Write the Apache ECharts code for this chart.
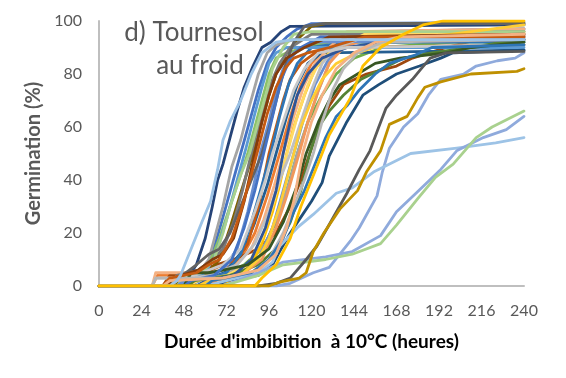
<!DOCTYPE html>
<html><head><meta charset="utf-8">
<script src="https://cdn.jsdelivr.net/npm/echarts@6/dist/echarts.min.js"></script>
<style>html,body{margin:0;padding:0;background:#fff}#c{width:566px;height:378px}</style>
</head><body><div id="c"></div>
<script>
const xTicks = [0,24,48,72,96,120,144,168,192,216,240];
const yTicks = [0,20,40,60,80,100];
const titleLines = ['d) Tournesol','au froid'];
const xName = "Durée d'imbibition  à 10°C (heures)";
const yName = 'Germination (%)';

const s01 = [[0,0],[40,0],[44,2],[46,4],[52,14],[58,24],[63,32],[67,44],[70,55],[74,62],[80,70],[86,80],[92,88],[100,92],[110,93],[240,93]];
const s02 = [[0,0],[36,0],[40,2],[50,3],[55,8],[60,18],[64,30],[67,40],[70,46],[74,56],[78,66],[82,75],[87,83],[92,90],[97,92],[103,96],[108,98],[240,98.5]];
const s03 = [[0,0],[40,0],[44,2],[55,4],[62,10],[66,20],[70,30],[75,45],[80,55],[85,68],[90,80],[95,88],[100,91],[110,93],[240,93]];
const s04 = [[0,0],[45,0],[50,2],[60,5],[66,12],[72,25],[78,40],[83,52],[88,65],[92,75],[96,84],[100,88],[106,90],[240,90]];
const s05 = [[0,0],[44,0],[48,3],[58,5],[65,10],[70,20],[75,32],[80,42],[85,50],[90,62],[95,74],[98,82],[104,90],[110,95],[120,96],[240,96]];
const s06 = [[0,0],[40,0],[48,2],[60,4],[68,10],[74,22],[80,35],[87,50],[92,62],[96,72],[100,80],[106,88],[112,93],[120,98],[128,99],[240,99]];
const s07 = [[0,0],[36,0],[40,3],[55,5],[62,8],[68,10],[75,18],[80,28],[86,42],[90,52],[95,65],[100,75],[105,82],[110,86],[118,88],[130,90],[150,94],[240,94]];
const s08 = [[0,0],[40,0],[45,3],[55,8],[62,12],[68,14],[74,20],[80,30],[86,40],[92,50],[97,62],[102,75],[106,85],[110,92],[116,98],[126,99],[240,99]];
const s09 = [[0,0],[48,0],[52,2],[65,4],[75,10],[82,22],[88,36],[93,50],[98,64],[103,78],[108,86],[114,90],[125,94],[240,94]];
const s10 = [[0,0],[55,0],[60,2],[72,5],[80,12],[86,24],[92,38],[97,50],[102,64],[107,76],[112,84],[120,90],[140,92],[240,92]];
const s11 = [[0,0],[30,0],[32,3],[50,3],[58,5],[70,8],[80,14],[88,28],[94,40],[98,50],[104,62],[110,74],[116,82],[124,88],[140,90],[240,91]];
const s12 = [[0,0],[50,0],[60,3],[72,6],[82,14],[88,24],[95,38],[100,50],[106,64],[112,76],[118,84],[126,88],[240,89]];
const s13 = [[0,0],[30,0],[33,4],[60,4],[70,6],[80,10],[88,20],[95,34],[102,50],[108,64],[114,76],[120,84],[128,90],[140,94],[240,95]];
const s14 = [[0,0],[30,0],[32,5],[64,5],[76,7],[86,14],[93,25],[99,38],[104,50],[110,64],[116,76],[122,84],[130,90],[140,96],[240,97]];
const s15 = [[0,0],[50,0],[56,2],[72,4],[84,8],[92,18],[98,30],[103,42],[107,52],[112,64],[118,76],[124,84],[132,89],[150,95],[240,95.5]];
const s16 = [[0,0],[40,0],[44,2],[62,4],[78,8],[88,16],[96,28],[102,40],[108,50],[114,62],[120,74],[126,84],[134,90],[150,94],[240,95]];
const s17 = [[0,0],[55,0],[62,2],[80,4],[90,10],[98,22],[104,36],[110,50],[116,64],[122,76],[130,86],[140,92],[160,96],[240,97]];
const s18 = [[0,0],[52,0],[56,3],[70,4],[82,8],[92,14],[100,24],[106,36],[112,50],[118,62],[126,72],[134,80],[144,86],[160,90],[200,92],[240,93]];
const s19 = [[0,0],[60,0],[66,2],[80,4],[92,10],[100,22],[106,34],[113,50],[118,62],[124,74],[130,84],[138,90],[150,93],[240,94]];
const s20 = [[0,0],[88,0],[92,3],[100,8],[108,18],[114,30],[120,40],[126,50],[130,57],[136,64],[142,71],[149,83],[159,90],[172,95],[183,98.5],[194,100],[240,100]];
const s21 = [[0,0],[48,0],[52,5],[62,5],[70,6],[84,8],[96,14],[104,24],[112,38],[117,50],[124,62],[130,70],[136,76],[146,80],[156,84],[170,86],[196,88],[210,90],[240,92]];
const s22 = [[0,0],[36,0],[40,4],[58,6],[66,8],[76,10],[90,14],[100,20],[108,30],[114,40],[119,50],[124,60],[130,68],[138,76],[151,80],[168,83],[177,86],[196,90],[217,93.5],[240,94.5]];
const s23 = [[0,0],[30,0],[32,3],[70,3],[86,5],[96,10],[104,20],[110,30],[116,40],[121,50],[126,62],[132,74],[138,82],[146,88],[160,92],[240,93]];
const s24 = [[0,0],[66,0],[72,2],[90,4],[98,8],[102,13],[108,20],[114,26],[120,32],[126,39],[130,49],[140,62],[149,72],[158,76],[168,80],[181,83],[193,86],[200,88],[240,89]];
const s25 = [[0,0],[60,0],[64,2],[86,5],[96,10],[104,18],[110,28],[116,36],[122,46],[128,56],[134,64],[140,68],[147,74],[156,80],[164,84],[178,87],[188,90],[240,91]];
const s26 = [[0,0],[90,0],[100,1],[108,3],[117,10],[123,15],[129,22],[140,35],[147,44],[153,51],[158,60],[162,67],[168,72],[177,78],[182,82],[187,86],[196,88],[240,88.5]];
const s27 = [[0,0],[96,0],[102,1.5],[113,3],[117,5],[121,13],[127,20],[136,29],[146,36],[151,43],[159,51],[164,61],[174,64],[180,71],[184,75],[193,77],[210,80],[236,81],[240,82]];
const s28 = [[0,0],[100,0],[108,1],[121,5],[130,7],[142,17],[147,22],[157,34],[160,43],[164,52],[172,60],[180,65],[186,72],[193,78],[206,80],[213,83],[225,85],[235,86],[240,88]];
const s29 = [[0,0],[60,0],[72,2],[90,5],[98,9],[102,15],[112,22],[121,27],[134,35],[143,37],[155,43],[176,50],[202,52],[224,54],[240,56]];
const s30 = [[0,0],[70,0],[90,5],[104,9],[128,11],[143,13],[159,19],[168,28],[179,35],[193,44],[202,51],[217,56],[230,59],[240,64]];
const s31 = [[0,0],[70,0],[90,4],[104,8],[128,10],[143,12],[159,16],[168,23],[180,33],[190,41],[200,46],[213,56],[222,60],[240,66]];
const s32 = [[0,0],[46,0],[50,3],[58,5],[64,12],[70,26],[75,38],[80,50],[85,62],[90,74],[95,84],[100,90],[106,94],[112,97],[120,99],[240,99.5]];
const s33 = [[0,0],[44,0],[48,2],[56,4],[62,8],[68,18],[74,30],[79,40],[84,50],[88,60],[92,70],[96,80],[100,86],[106,88],[116,90],[130,92],[240,92]];
const s34 = [[0,0],[40,0],[44,4],[56,6],[64,10],[70,14],[76,24],[81,36],[86,50],[90,60],[94,70],[98,78],[102,84],[108,90],[120,95],[240,96]];
const s35 = [[0,0],[44,0],[48,2],[60,3],[70,6],[78,14],[84,28],[88,40],[91,50],[96,62],[100,74],[104,82],[110,88],[120,92],[240,93]];
const s36 = [[0,0],[40,0],[44,3],[60,5],[70,8],[78,10],[84,16],[90,30],[96,50],[100,60],[104,70],[108,78],[114,84],[122,88],[140,90],[240,91]];
const s37 = [[0,0],[70,0],[76,3],[86,8],[92,16],[98,28],[102,38],[106,50],[110,60],[116,72],[122,82],[130,88],[142,92],[160,95],[240,96]];
const s38 = [[0,0],[56,0],[62,2],[80,4],[90,10],[96,18],[102,30],[106,40],[110,50],[114,60],[120,70],[126,78],[134,84],[146,88],[164,92],[240,98.5]];
const s39 = [[0,0],[36,0],[40,2],[70,3],[90,6],[100,12],[106,22],[110,32],[115,50],[120,62],[126,72],[134,82],[144,88],[156,92],[170,94],[240,95]];
const s40 = [[0,0],[50,0],[54,2],[74,4],[90,8],[100,14],[108,24],[114,36],[119,50],[124,60],[130,66],[138,72],[148,78],[160,82],[172,86],[188,88],[210,90],[228,92],[240,93]];
const s41 = [[0,0],[40,0],[44,2],[66,4],[84,8],[94,16],[102,28],[108,40],[112,50],[118,62],[124,74],[130,84],[138,92],[150,96],[240,97]];
const s42 = [[0,0],[56,0],[60,2],[76,4],[86,10],[94,22],[100,36],[104,50],[108,62],[112,72],[118,80],[126,86],[140,90],[160,92],[240,93]];
const s43 = [[0,0],[38,0],[42,3],[56,6],[64,10],[70,12],[76,18],[82,32],[88,50],[92,62],[96,72],[100,80],[106,86],[116,90],[130,94],[240,95]];

const seriesList = [s32,s03,s13,s18,s02,s22,s41,s12,s36,s33,s37,s17,s10,s14,s06,s04,s34,s15,s24,s40,s05,s19,s35,s08,s16,s28,s42,s38,s11,s21,s09,s43,s23,s29,s30,s31,s07,s25,s26,s39,s27,s01,s20];
const colors = ['#4472C4','#A5A5A5','#ED7D31','#70AD47','#264478','#9E480E','#A5A5A5','#255E91','#C55A11','#8CC168','#FFC000','#698ED0','#2E75B6','#F4B183','#7F6000','#5B9BD5','#7B7B7B','#FFD966','#1F4E79','#548235','#A9D18E','#F1975A','#698ED0','#636363','#BFBFBF','#8FAADC','#2F5597','#FFCD33','#C9C9C9','#385723','#4472C4','#843C0C','#B7B7B7','#9DC3E6','#8FAADC','#A9D18E','#C55A11','#2E75B6','#595959','#F4B183','#BF9000','#9DC3E6','#FFC000'];

const chart = echarts.init(document.getElementById('c'), null, {renderer:'canvas'});
const txt = '#595959';
const ff = 'Lato, sans-serif';
chart.setOption({
  animation:false,
  backgroundColor:'#fff',
  grid:{left:99,right:42,top:21,bottom:92,containLabel:false},
  xAxis:{type:'value',min:xTicks[0],max:xTicks[xTicks.length-1],interval:24,
    axisLine:{show:true,lineStyle:{color:'#BFBFBF',width:2}},axisTick:{show:false},splitLine:{show:false},
    axisLabel:{color:txt,fontSize:16,fontFamily:ff,margin:17},
    name:xName,nameLocation:'middle',nameGap:46,
    nameTextStyle:{color:'#000',fontSize:19,fontWeight:'bold',fontFamily:ff}},
  yAxis:{type:'value',min:yTicks[0],max:yTicks[yTicks.length-1],interval:20,
    axisLine:{show:true,lineStyle:{color:'#BFBFBF',width:2}},axisTick:{show:false},splitLine:{show:false},
    axisLabel:{color:txt,fontSize:16,fontFamily:ff,margin:17},
    name:yName,nameLocation:'middle',nameGap:54,
    nameTextStyle:{color:txt,fontSize:20,fontWeight:'bold',fontFamily:ff}},
  graphic:[
    {type:'text',x:194,y:33,z:100,style:{text:titleLines[0],fill:txt,font:'26px Lato, sans-serif',textAlign:'center',textVerticalAlign:'middle'}},
    {type:'text',x:200,y:66,z:100,style:{text:titleLines[1],fill:txt,font:'26px Lato, sans-serif',textAlign:'center',textVerticalAlign:'middle'}}
  ],
  series: seriesList.map((d,i)=>({type:'line',data:d,showSymbol:false,silent:true,
    lineStyle:{color:colors[i],width:2.8,join:'round',cap:'round'},itemStyle:{color:colors[i]}}))
});
</script></body></html>
